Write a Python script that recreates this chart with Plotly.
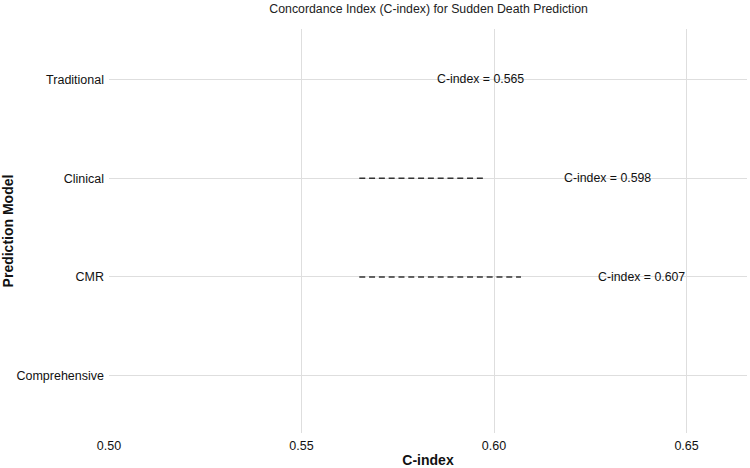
import plotly.graph_objects as go

models = ["Traditional", "Clinical", "CMR", "Comprehensive"]
c_index = [0.565, 0.598, 0.607, None]
baseline = 0.565
x_ticks = [0.50, 0.55, 0.60, 0.65]
x_tick_labels = ["0.50", "0.55", "0.60", "0.65"]

fig = go.Figure()

for m, v in zip(models, c_index):
    if v is None or v == baseline:
        continue
    fig.add_trace(go.Scatter(
        x=[baseline, v], y=[m, m], mode="lines",
        line=dict(color="#333333", width=1.5, dash="6px,3.8px"),
        showlegend=False, hoverinfo="skip"))

# invisible trace to ensure all categories exist
fig.add_trace(go.Scatter(x=[None]*len(models), y=models, mode="markers",
                         showlegend=False, hoverinfo="skip"))

for m, v in zip(models, c_index):
    if v is None:
        continue
    fig.add_annotation(x=v, y=m, text=f"C-index = {v:.3f}", showarrow=False,
                       xshift=121, xanchor="center", yanchor="middle",
                       font=dict(size=12.3, color="#111111"))

fig.update_layout(
    width=750, height=468,
    margin=dict(l=109, r=3, t=29, b=35),
    paper_bgcolor="white", plot_bgcolor="white",
    font=dict(family="Liberation Sans, Arial, sans-serif", size=12, color="#111111"),
    title=dict(text="Concordance Index (C-index) for Sudden Death Prediction",
               x=0.5715, xanchor="center", xref="container",
               y=1 - 9/468, yanchor="middle", yref="container",
               font=dict(size=12.3, color="#222222")),
    xaxis=dict(range=[0.5, 0.6657], tickvals=x_ticks, ticktext=x_tick_labels,
               showgrid=True, gridcolor="#dedede", gridwidth=1,
               zeroline=False, showline=False, ticks="", ticklabelstandoff=3,
               tickfont=dict(size=12.5, color="#111111"),
               title=dict(text="<b>C-index</b>", font=dict(size=14, color="#111111"), standoff=3)),
    yaxis=dict(type="category", categoryorder="array", categoryarray=models,
               range=[3.58, -0.51],
               showgrid=True, gridcolor="#dedede", gridwidth=1,
               zeroline=False, showline=False, ticks="", ticklabelstandoff=4,
               tickfont=dict(size=12.5, color="#111111"),
               title=dict(text="<b>Prediction Model</b>", font=dict(size=14, color="#111111"), standoff=3)),
)

fig.write_html("out.html")
